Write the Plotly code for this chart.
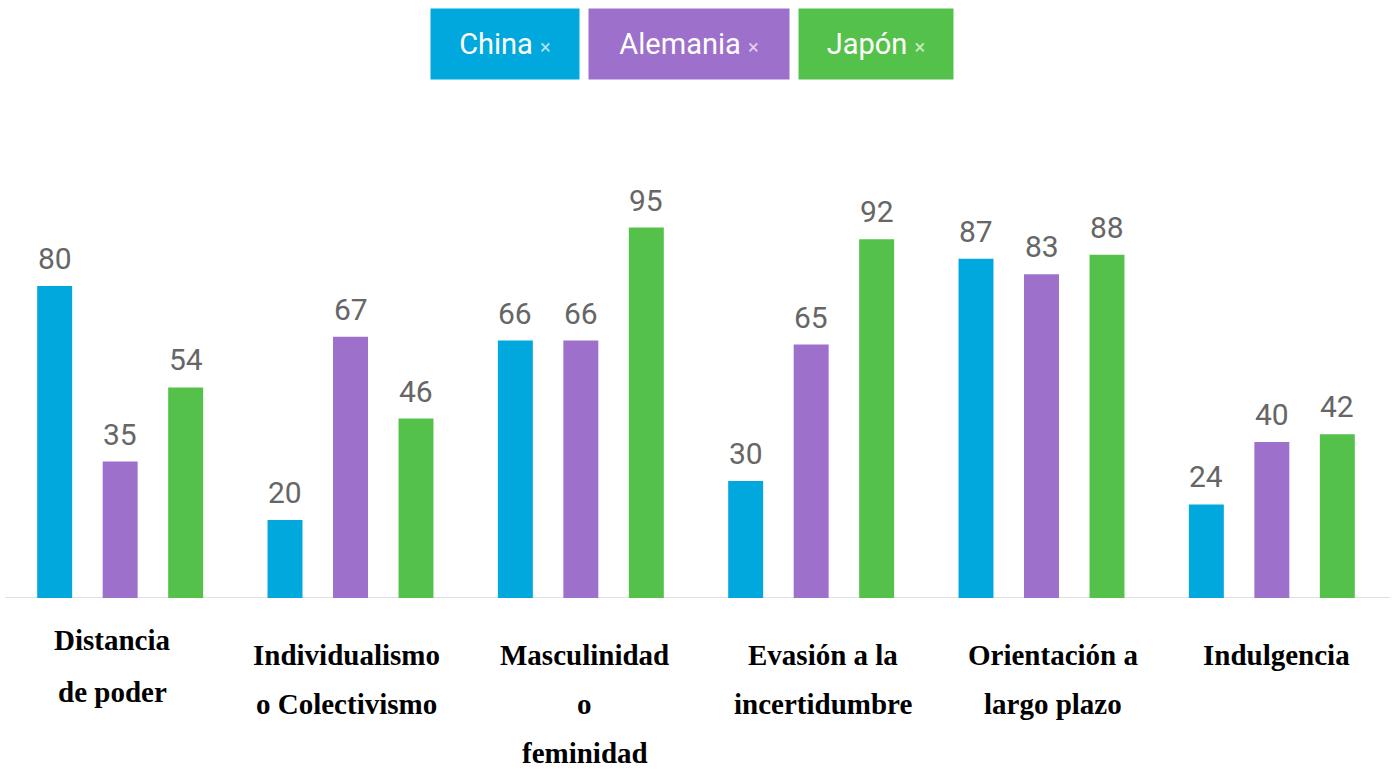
import plotly.graph_objects as go

# Hofstede cultural dimensions: China, Alemania, Japón
categories = [
    "Distancia de poder",
    "Individualismo o Colectivismo",
    "Masculinidad o feminidad",
    "Evasión a la incertidumbre",
    "Orientación a largo plazo",
    "Indulgencia",
]
label_lines = [
    ["Distancia", "de poder"],
    ["Individualismo", "o Colectivismo"],
    ["Masculinidad", "o", "feminidad"],
    ["Evasión a la", "incertidumbre"],
    ["Orientación a", "largo plazo"],
    ["Indulgencia"],
]
series_names = ["China", "Alemania", "Japón"]
china = [80, 20, 66, 30, 87, 24]
alemania = [35, 67, 66, 65, 83, 40]
japon = [54, 46, 95, 92, 88, 42]

colors = ["#00A8DE", "#9D70CC", "#54C24A"]
values = [china, alemania, japon]

W, H = 1395, 769
ML, MR, MT, MB = 5, 8, 108, 171
PLOT_H = H - MT - MB
PX_PER_UNIT = 3.9
YMAX = PLOT_H / PX_PER_UNIT

fig = go.Figure()
for name, vals, col in zip(series_names, values, colors):
    fig.add_trace(go.Bar(
        x=categories, y=vals, name=name,
        marker=dict(color=col, line=dict(width=0)),
        showlegend=False,
    ))

annotations = []
# value labels above each bar, offset within the group
n = len(series_names)
for si, vals in enumerate(values):
    for ci, v in enumerate(vals):
        annotations.append(dict(
            x=ci, xref="x", y=v, yref="y",
            text=str(v), showarrow=False,
            xshift=(si - (n - 1) / 2) * 65.5,
            yanchor="bottom", yshift=8,
            font=dict(family="Roboto", size=30, color="#666666"),
        ))

# category labels, one annotation per line for wide line spacing
label_xshift = [-8, -4, 4, 12, 11, 5]
first_line_px = [640, 655, 655, 655, 655, 655]
for ci, lines in enumerate(label_lines):
    step = 52 if ci == 0 else 49
    for li, line in enumerate(lines):
        py = first_line_px[ci] + li * step
        annotations.append(dict(
            x=ci, xref="x", y=-(py - (H - MB)) / PLOT_H, yref="paper",
            text=line, showarrow=False, xshift=label_xshift[ci],
            yanchor="middle",
            font=dict(family="Liberation Serif", size=29, color="#000000", weight="bold"),
        ))

# coloured tag-style legend
PLOT_W = W - ML - MR
tags = [(430, 578), (588, 788), (798, 952)]
for (x0, x1), name, col in zip(tags, series_names, colors):
    annotations.append(dict(
        x=(x0 - ML) / PLOT_W, xref="paper", xanchor="left",
        y=((H - MB) - 8) / PLOT_H, yref="paper", yanchor="top",
        width=x1 - x0, height=70, bgcolor=col, borderpad=0,
        text=f"{name} <span style='color:rgba(255,255,255,0.7);font-size:20px'>×</span>",
        showarrow=False, align="center", valign="middle",
        font=dict(family="Roboto", size=29, color="#ffffff"),
    ))

fig.update_layout(
    width=W, height=H,
    margin=dict(l=ML, r=MR, t=MT, b=MB),
    paper_bgcolor="#ffffff", plot_bgcolor="#ffffff",
    barmode="group", bargap=0.147, bargroupgap=0.466,
    xaxis=dict(showticklabels=False, showgrid=False, zeroline=False, showline=False,
               ticks=""),
    yaxis=dict(range=[0, YMAX], visible=False, showgrid=False, zeroline=False),
    annotations=annotations,
    shapes=[dict(type="line", xref="paper", yref="y", x0=0, x1=(1390 - ML) / PLOT_W,
                 y0=0, y1=0, line=dict(color="#e0e0e0", width=2), layer="below")],
)

fig.write_html("out.html")
